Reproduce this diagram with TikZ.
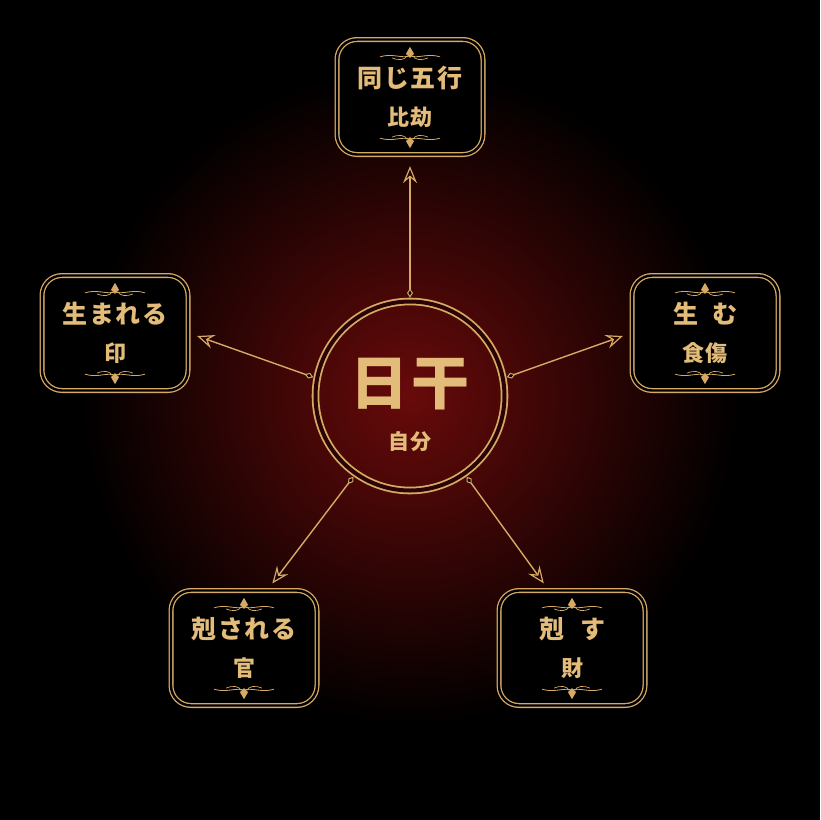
\documentclass[tikz,border=0pt]{standalone}
\usepackage{fontspec}
\usetikzlibrary{arrows.meta,shapes.geometric}
\newfontfamily\jp{Noto Sans CJK JP}[LetterSpace=6]
\definecolor{gold}{RGB}{214,170,100}
\definecolor{goldtext}{RGB}{228,188,122}
\definecolor{glow}{RGB}{104,10,10}

\tikzset{
  box/.style={draw=gold, line width=1.3pt, double=black, double distance=2.4pt,
    rounded corners=20pt, fill=black, minimum width=146pt, minimum height=115pt,
    inner sep=0pt, text=goldtext, align=center, font=\jp\bfseries\fontsize{25}{38}\selectfont},
  hub/.style={circle, draw=gold, line width=1.8pt, double=black!60!glow, double distance=4pt,
    minimum size=189pt, inner sep=0pt, outer sep=4pt},
  link/.style={draw=gold, line width=1.4pt,
    {Turned Square[fill=black, length=9pt, width=6pt, line width=1pt]}-{Stealth[open, length=17pt, width=14pt, inset=6pt, line width=1.2pt]}},
  flourish/.pic={
    \draw[gold, line width=0.8pt] (-30,2) .. controls (-18,-2) and (-8,4) .. (0,1)
      .. controls (8,4) and (18,-2) .. (30,2);
    \draw[gold, line width=0.7pt] (-18,3) .. controls (-11,6) and (-5,5) .. (-3,1);
    \draw[gold, line width=0.7pt] (18,3) .. controls (11,6) and (5,5) .. (3,1);
    \fill[gold] (0,-8) -- (4,-1) -- (0,3) -- (-4,-1) -- cycle;
  }
}

\begin{document}
\begin{tikzpicture}[x=1pt, y=-1pt]
  \useasboundingbox (0,0) rectangle (820,820);
  \fill[black] (0,0) rectangle (820,820);
  \fill[inner color=glow, outer color=black] (410,396) circle (330);

  % centre
  \node[hub] (ri) at (410,396) {};
  \node[text=goldtext, font=\jp\bfseries\fontsize{58}{58}\selectfont] (rigan) at (410,384) {日干};
  \node[text=goldtext, font=\jp\bfseries\fontsize{21}{21}\selectfont] (zibun) at (410,442) {自分};

  % the five boxes
  \node[box] (bijie) at (410,97) {同じ五行\\{\fontsize{22}{38}\selectfont 比劫}};
  \node[box] (yin) at (115,333) {生まれる\\{\fontsize{22}{38}\selectfont 印}};
  \node[box] (shi) at (705,333) {生\hspace{14pt}む\\{\fontsize{22}{38}\selectfont 食傷}};
  \node[box] (guan) at (244,648) {剋される\\{\fontsize{22}{38}\selectfont 官}};
  \node[box] (cai) at (572,648) {剋\hspace{16pt}す\\{\fontsize{22}{38}\selectfont 財}};

  \foreach \b in {bijie,yin,shi,guan,cai} {
    \pic at ([yshift=-16pt]\b.north) {flourish};
    \pic[yscale=-1] at ([yshift=15pt]\b.south) {flourish};
  }

  % arrows
  \draw[link, shorten >=11pt] (ri.90) -- (bijie.south);
  \draw[link, shorten >=9pt] (ri.169) -- (yin.east);
  \draw[link, shorten >=9pt] (ri.11) -- (shi.west);
  \draw[link, shorten >=8pt] (ri.235) -- (guan.68);
  \draw[link, shorten >=8pt] (ri.305) -- (cai.112);
\end{tikzpicture}
\end{document}
